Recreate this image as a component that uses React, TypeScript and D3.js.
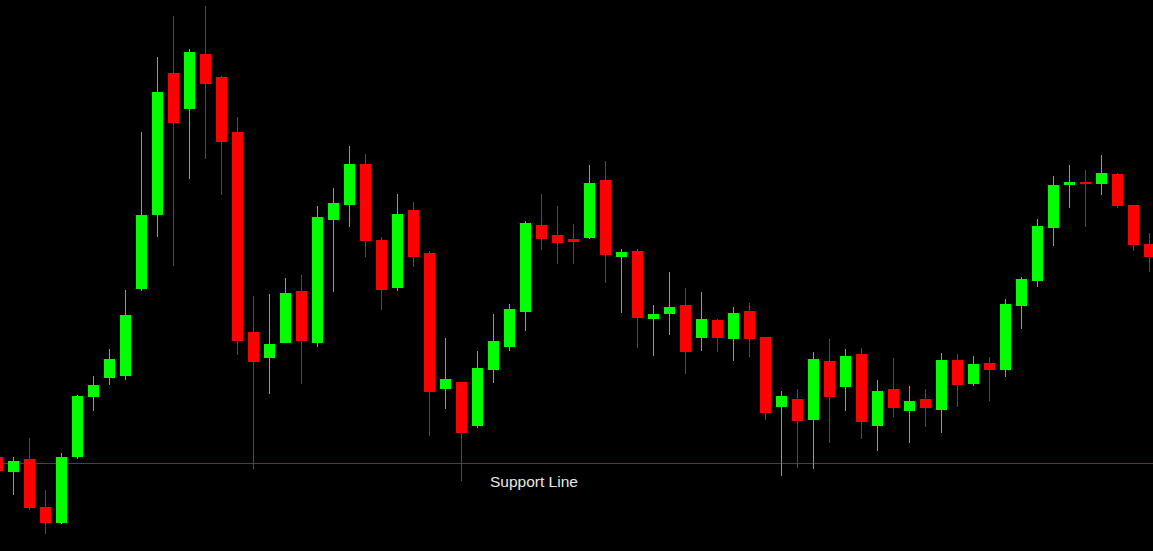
import React from 'react';
import * as d3 from 'd3';

// OHLC readings per candle (arbitrary price units)
const opens = [
  94, 79, 92, 44, 28, 94, 154, 173, 175, 262, 336, 478, 442, 497, 474, 419, 219, 193, 208, 260,
  208, 331, 346, 387, 311, 263, 341, 298, 162, 169, 125, 181, 204, 239, 326, 316, 312, 313, 371, 294,
  300, 232, 237, 246, 213, 231, 212, 240, 214, 144, 152, 131, 190, 164, 197, 125, 162, 140, 152, 141,
  191, 167, 188, 181, 245, 270, 323, 366, 369, 367, 377, 346, 307,
];
const highs = [
  96, 94, 113, 61, 98, 156, 175, 202, 261, 419, 494, 535, 502, 545, 475, 434, 255, 257, 273, 276,
  345, 363, 405, 397, 314, 357, 349, 300, 213, 169, 200, 237, 247, 330, 357, 345, 327, 386, 390, 302,
  302, 246, 279, 263, 259, 232, 244, 248, 214, 160, 162, 199, 212, 202, 203, 171, 193, 165, 162, 198,
  197, 195, 194, 252, 274, 332, 375, 386, 381, 396, 378, 346, 318,
];
const lows = [
  78, 56, 41, 17, 27, 92, 140, 166, 171, 260, 314, 285, 372, 392, 356, 196, 82, 157, 208, 167,
  204, 259, 324, 294, 241, 260, 284, 115, 142, 70, 123, 168, 200, 220, 301, 287, 287, 312, 268, 238,
  203, 195, 216, 177, 200, 199, 190, 194, 131, 75, 83, 82, 108, 140, 112, 100, 134, 108, 124, 118,
  144, 165, 150, 174, 222, 264, 305, 343, 324, 356, 343, 300, 279,
];
const closes = [
  80, 90, 43, 28, 94, 155, 166, 192, 236, 336, 459, 428, 499, 467, 409, 210, 189, 207, 258, 210,
  334, 348, 387, 310, 261, 337, 294, 159, 172, 118, 183, 210, 242, 328, 312, 308, 309, 368, 296, 299,
  233, 237, 244, 199, 232, 213, 238, 212, 138, 155, 130, 192, 154, 195, 129, 160, 143, 150, 143, 191,
  166, 187, 181, 247, 272, 325, 366, 369, 367, 378, 345, 306, 294,
];

const supportLevel = 88;
const supportLabel = 'Support Line';

const W = 1153;
const H = 551;
const UP = '#00ff00';
const DOWN = '#ff0000';

export default function App() {
  const x = d3.scaleLinear().domain([0, opens.length - 1]).range([-2.7, 1149.3]);
  const y = d3.scaleLinear().domain([0, 551]).range([H, 0]);
  const bodyW = 11;

  const candles = opens.map((o, i) => ({
    o,
    h: highs[i],
    l: lows[i],
    c: closes[i],
    up: closes[i] >= o,
  }));

  return (
    <svg
      width={W}
      height={H}
      style={{ position: 'fixed', left: 0, top: 0, background: '#000', display: 'block' }}
    >
      <rect x={0} y={0} width={W} height={H} fill="#000" />
      {/* support line */}
      <line
        x1={0}
        x2={W}
        y1={Math.round(y(supportLevel)) + 0.5}
        y2={Math.round(y(supportLevel)) + 0.5}
        stroke="#dd0000"
        strokeWidth={1}
      />
      <g shapeRendering="crispEdges">
        {candles.map((d, i) => {
          const cx = Math.round(x(i));
          const col = d.up ? UP : DOWN;
          const top = y(Math.max(d.o, d.c));
          const bot = y(Math.min(d.o, d.c));
          return (
            <g key={i}>
              <rect x={cx} y={y(d.h)} width={1} height={y(d.l) - y(d.h)} fill={col} />
              <rect
                x={cx - (bodyW - 1) / 2}
                y={top}
                width={bodyW}
                height={Math.max(2, bot - top)}
                fill={col}
              />
            </g>
          );
        })}
      </g>
      <text
        x={490}
        y={y(supportLevel) + 24}
        fill="#e8e8e8"
        fontFamily="Liberation Sans, Arial, sans-serif"
        fontSize={15.5}
      >
        {supportLabel}
      </text>
    </svg>
  );
}
